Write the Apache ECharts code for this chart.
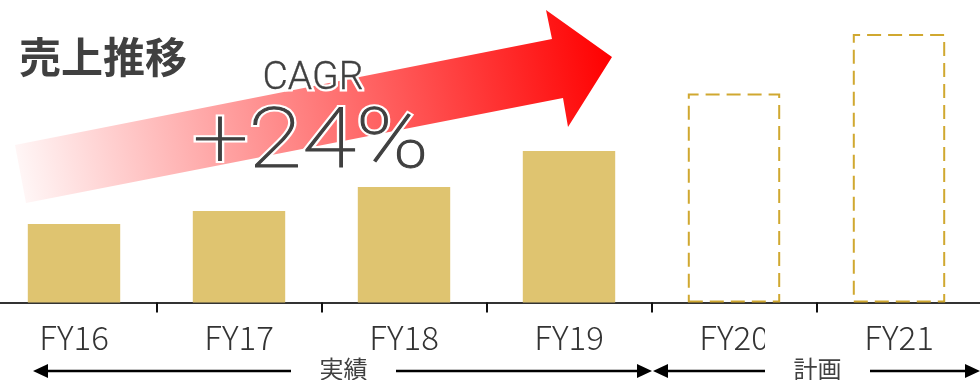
<!DOCTYPE html>
<html>
<head>
<meta charset="utf-8">
<script src="https://cdn.jsdelivr.net/npm/echarts@6/dist/echarts.min.js"></script>
<style>
html,body{margin:0;padding:0;background:#fff;}
#chart{width:980px;height:380px;}
</style>
</head>
<body>
<div id="chart"></div>
<script>
// ---- data ----
const categories = ['FY16', 'FY17', 'FY18', 'FY19', 'FY20', 'FY21'];
const sales = [78.5, 91.5, 115.5, 151.5, 209, 268.5];
const isPlan = [false, false, false, false, true, true];
const titleText = '売上推移';
const cagrLabel = 'CAGR';
const cagrValue = '+24%';
const actualLabel = '実績';
const planLabel = '計画';

// ---- chart ----
const chart = echarts.init(document.getElementById('chart'), null, {renderer: 'canvas'});

const barData = sales.map((v, i) => ({
  value: v,
  itemStyle: isPlan[i]
    ? {color: 'rgba(0,0,0,0)', borderColor: '#D0A830', borderWidth: 2, borderType: [14, 7]}
    : {color: '#DFC470'}
}));

const lineY = 371;
const ink = '#000';
function arrowHead(tipX, dir) {
  return {
    type: 'polygon', z: 100,
    shape: {points: [[tipX, lineY], [tipX - dir * 15, lineY - 7], [tipX - dir * 15, lineY + 7]]},
    style: {fill: ink}
  };
}
function seg(x1, x2) {
  return {type: 'line', z: 100, shape: {x1: x1, y1: lineY, x2: x2, y2: lineY}, style: {stroke: ink, lineWidth: 2.5}};
}
function boxLabel(x0, x1, cx, text) {
  return [
    {type: 'rect', z: 99, shape: {x: x0, y: 322, width: x1 - x0, height: 58}, style: {fill: '#fff'}},
    {type: 'text', z: 100, x: cx, y: 369, style: {text: text, font: '24px "Noto Sans CJK JP"', fill: '#404040', align: 'center', verticalAlign: 'middle'}}
  ];
}
function outlinedText(x, y, sx, text, font, inner) {
  return [
    {type: 'text', z: 5, x: x, y: y, scaleX: sx,
     style: {text: text, font: font, fill: '#fff', stroke: '#fff', lineWidth: 5, align: 'center', verticalAlign: 'middle'}},
    {type: 'text', z: 6, x: x, y: y, scaleX: sx,
     style: {text: text, font: font, fill: '#404040', stroke: '#404040', lineWidth: inner, align: 'center', verticalAlign: 'middle'}}
  ];
}

const option = {
  backgroundColor: '#fff',
  animation: false,
  grid: {left: -8.5, right: -1.5, top: 2.5, bottom: 77.5, outerBoundsMode: 'none', containLabel: false},
  xAxis: {
    type: 'category',
    data: categories,
    axisLine: {lineStyle: {color: '#333', width: 2}},
    axisTick: {show: true, length: 10, lineStyle: {color: '#111', width: 2}},
    axisLabel: {fontSize: 33, color: '#333', fontFamily: '"Noto Sans CJK JP"', fontWeight: 300, margin: 18}
  },
  yAxis: {type: 'value', min: 0, max: 300, show: false, splitLine: {show: false}},
  series: [{
    type: 'bar',
    data: barData,
    barWidth: '56%'
  }],
  graphic: [
    {
      type: 'polygon', z: 1,
      shape: {points: [[15, 145], [552, 39], [546, 10], [612, 57], [568, 127], [563, 98], [26, 203]]},
      style: {
        fill: {
          type: 'linear', x: 15, y: 174, x2: 612, y2: 57, global: true,
          colorStops: [{offset: 0, color: '#fff8f8'}, {offset: 1, color: '#ff0000'}]
        }
      }
    },
    {
      type: 'text', z: 5, x: 19, y: 57,
      style: {text: titleText, font: 'bold 42px "Noto Sans CJK JP"', fill: '#404040', align: 'left', verticalAlign: 'middle'}
    },
    ...outlinedText(313, 79, 1, cagrLabel, '300 39px Roboto', 0.3),
    ...outlinedText(311, 146, 1.17, cagrValue, '100 84px Roboto', 1),
    arrowHead(33, -1), seg(46, 291),
    seg(396, 640), arrowHead(652, 1),
    arrowHead(653, -1), seg(666, 765),
    seg(870, 968), arrowHead(980, 1),
    ...boxLabel(291, 369, 343.5, actualLabel),
    ...boxLabel(765, 846, 817.5, planLabel)
  ]
};
chart.setOption(option);
</script>
</body>
</html>
